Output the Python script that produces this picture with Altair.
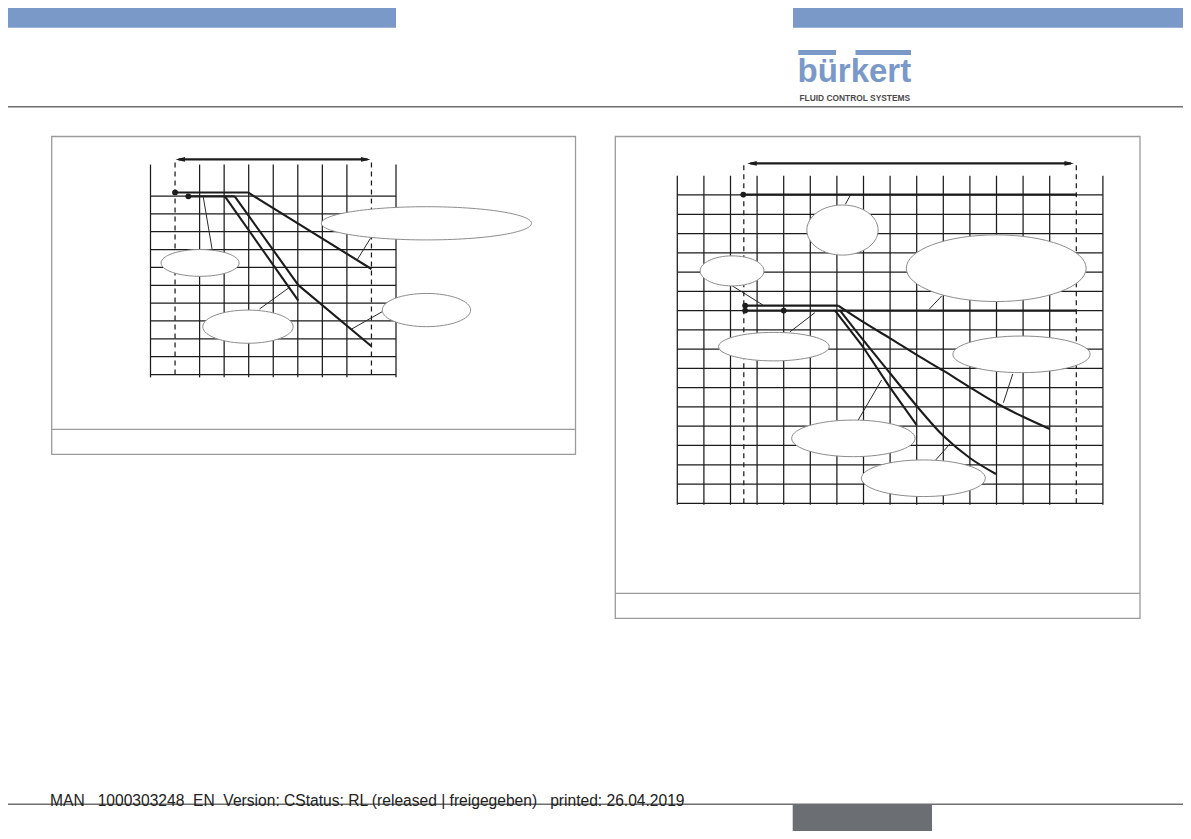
import altair as alt
import pandas as pd

# ======================= DATA (grid units) =======================
# ---- left diagram: 10 x 10 grid ----
L_SOLID_COLS = [0, 2, 3, 4, 5, 6, 7, 8, 10]
L_DASHED_COLS = [1, 9]
L_ROWS = list(range(11))
L_COL_MAX = 10
L_VERT_TOP = 11.76
L_DASH_TOP = 12.05
L_ARROW = [1.02, 8.96]
L_LINES = {
    "A": [(1.0, 10.2), (3.97, 10.2), (9.0, 5.91)],
    "H": [(1.54, 9.98), (3.43, 9.98)],
    "B": [(3.03, 9.98), (6.02, 4.14)],
    "C": [(3.43, 9.98), (6.02, 5.01), (9.0, 1.58)],
}
L_DOTS = [(1.0, 10.2), (1.54, 9.98)]
L_CALLOUTS = [  # centre col, centre row, half width, half height
    (11.24, 8.47, 4.28, 0.93),
    (2.02, 6.25, 1.59, 0.75),
    (3.97, 2.68, 1.84, 0.93),
    (11.24, 3.61, 1.80, 0.93),
]
L_LEADERS = [
    ((8.96, 7.63), (8.43, 6.45)),
    ((2.51, 7.01), (2.15, 9.94)),
    ((4.44, 3.67), (5.64, 4.86)),
    ((9.44, 3.52), (8.20, 2.55)),
]

# ---- right diagram: 16 x 16 grid ----
R_SOLID_COLS = list(range(15)) + [16]
R_DASHED_COLS = [2.5, 15]
R_ROWS = list(range(17))
R_COL_MAX = 16
R_VERT_TOP = 17.0
R_DASH_TOP = 17.73
R_ARROW = [2.63, 14.91]
R_LINES = {
    "top": [(2.48, 16.02), (15.0, 16.02)],
    "up": [(2.55, 10.26), (6.05, 10.26)],
    "low": [(2.55, 10.0), (15.0, 10.0)],
    "B": [(5.93, 10.0), (6.99, 8.1), (8.0, 6.0), (9.0, 4.06)],
}
R_CURVES = {  # smooth curves
    "A": [(6.05, 10.26), (7.0, 9.4), (8.0, 8.56), (9.0, 7.7), (10.0, 6.88), (11.0, 6.02),
          (12.0, 5.19), (13.0, 4.49), (14.0, 3.86)],
    "C": [(6.12, 10.0), (7.0, 8.45), (8.0, 6.75), (9.0, 5.05), (10.0, 3.5), (11.0, 2.35), (11.98, 1.52)],
}
R_DOTS = [(2.48, 16.02), (2.55, 10.26), (2.55, 10.0), (4.0, 10.0)]
R_CALLOUTS = [
    (6.21, 14.18, 1.34, 1.30),
    (11.99, 12.20, 3.38, 1.73),
    (2.06, 12.06, 1.20, 0.78),
    (3.63, 8.13, 2.08, 0.74),
    (12.94, 7.73, 2.58, 0.95),
    (6.62, 3.37, 2.32, 0.95),
    (9.25, 1.30, 2.33, 0.95),
]
R_LEADERS = [
    ((6.32, 15.52), (6.51, 16.0)),
    ((9.94, 10.76), (9.47, 10.07)),
    ((2.07, 11.28), (3.22, 10.29)),
    ((4.24, 8.90), (5.17, 9.89)),
    ((12.61, 6.71), (12.26, 5.22)),
    ((6.80, 4.32), (7.68, 6.40)),
    ((9.69, 2.21), (10.25, 3.08)),
]

# ---- page texts ----
LOGO_TEXT = "bürkert"
LOGO_SUB = "FLUID CONTROL SYSTEMS"
FOOTER_TEXT = ("MAN\u00a0\u00a0 1000303248\u00a0 EN\u00a0 Version: CStatus: RL "
               "(released | freigegeben)\u00a0\u00a0 printed: 26.04.2019")

# ======================= LAYOUT (page pixels) =======================
LEFT = dict(x0=150.5, dx=24.55, y0=374.5, dy=17.85)
RIGHT = dict(x0=677.3, dx=26.6, y0=503.3, dy=19.27)
BLUE = "#7a98c8"
INK = "#1c1c1c"

X = alt.Scale(domain=[8, 1183], nice=False, zero=False)
Y = alt.Scale(domain=[8, 831], nice=False, zero=False, reverse=True)


def px(f, c):
    return f["x0"] + c * f["dx"]


def py(f, r):
    return f["y0"] - r * f["dy"]


def seg_rows(f, solid, dashed, rows, cmax, vtop, dtop, vbot):
    out = []
    for c in solid:
        out.append(dict(x=px(f, c), y=py(f, vbot), x2=px(f, c), y2=py(f, vtop), k="s"))
    for r in rows:
        out.append(dict(x=px(f, 0), y=py(f, r), x2=px(f, cmax), y2=py(f, r), k="s"))
    for c in dashed:
        out.append(dict(x=px(f, c), y=py(f, 0), x2=px(f, c), y2=py(f, dtop), k="d"))
    return out


grid = (seg_rows(LEFT, L_SOLID_COLS, L_DASHED_COLS, L_ROWS, L_COL_MAX, L_VERT_TOP, L_DASH_TOP, -0.16)
        + seg_rows(RIGHT, R_SOLID_COLS, R_DASHED_COLS, R_ROWS, R_COL_MAX, R_VERT_TOP, R_DASH_TOP, -0.08))
grid_df = pd.DataFrame(grid)


def path_rows(tag, f, src):
    out = []
    for name, pts in src.items():
        for i, (c, r) in enumerate(pts):
            out.append(dict(id=tag + name, o=i, x=px(f, c), y=py(f, r)))
    return out


lines = path_rows("L", LEFT, L_LINES) + path_rows("R", RIGHT, R_LINES)
# arrow shafts
for tag, f, arr, row in (("L", LEFT, L_ARROW, L_DASH_TOP), ("R", RIGHT, R_ARROW, R_DASH_TOP - 0.09)):
    for i, c in enumerate(arr):
        lines.append(dict(id=tag + "arrow", o=i, x=px(f, c) + (3 if i == 0 else -3), y=py(f, row)))
lines_df = pd.DataFrame(lines)
curves_df = pd.DataFrame(path_rows("R", RIGHT, R_CURVES))

heads = []
for f, arr, row in ((LEFT, L_ARROW, L_DASH_TOP), (RIGHT, R_ARROW, R_DASH_TOP - 0.09)):
    heads.append(dict(x=px(f, arr[0]), y=py(f, row), p="M0,0L2,-0.5L2,0.5Z"))
    heads.append(dict(x=px(f, arr[1]), y=py(f, row), p="M0,0L-2,-0.5L-2,0.5Z"))
heads_df = pd.DataFrame(heads)

dots_df = pd.DataFrame([dict(x=px(f, c), y=py(f, r)) for f, d in ((LEFT, L_DOTS), (RIGHT, R_DOTS)) for c, r in d])

leaders_df = pd.DataFrame([dict(x=px(f, a[0]), y=py(f, a[1]), x2=px(f, b[0]), y2=py(f, b[1]))
                           for f, L in ((LEFT, L_LEADERS), (RIGHT, R_LEADERS)) for a, b in L])

K = 0.5523


def ellipse_path(r):
    k, kr = K, K * r
    return (f"M-1,0C-1,{-kr:.4f} {-k:.4f},{-r:.4f} 0,{-r:.4f}"
            f"C{k:.4f},{-r:.4f} 1,{-kr:.4f} 1,0"
            f"C1,{kr:.4f} {k:.4f},{r:.4f} 0,{r:.4f}"
            f"C{-k:.4f},{r:.4f} -1,{kr:.4f} -1,0Z")


ell = []
for f, C in ((LEFT, L_CALLOUTS), (RIGHT, R_CALLOUTS)):
    for c, r, a, b in C:
        rx, ry = a * f["dx"], b * f["dy"]
        ell.append(dict(x=px(f, c), y=py(f, r), p=ellipse_path(ry / rx), s=(2 * rx) ** 2))
ell_df = pd.DataFrame(ell)

# page furniture
bars_df = pd.DataFrame([dict(x=0, x2=396, y=0, y2=27.7), dict(x=793, x2=1191, y=0, y2=27.7)])
logo_bars_df = pd.DataFrame([dict(x=798.3, x2=836, y=50, y2=55), dict(x=855.5, x2=911, y=50, y2=55)])
boxes_df = pd.DataFrame([dict(x=51.7, x2=575.5, y=136.5, y2=454.3), dict(x=615.3, x2=1140, y=136.5, y2=618.3)])
seps_df = pd.DataFrame([
    dict(x=51.7, x2=575.5, y=429.3, c="#9b9b9b", w=1.3),
    dict(x=615.3, x2=1140, y=593.3, c="#9b9b9b", w=1.3),
    dict(x=0, x2=1191, y=106.7, c="#6f6f6f", w=1.5),
    dict(x=0, x2=1191, y=804.2, c="#6f6f6f", w=1.5),
])
foot_box_df = pd.DataFrame([dict(x=792.7, x2=932, y=804.8, y2=839)])
bold_texts_df = pd.DataFrame([
    dict(t=LOGO_TEXT, x=797.5, y=81.5, s=33, c=BLUE),
    dict(t=LOGO_SUB, x=799.5, y=100.5, s=8.4, c="#4a4a4a"),
])
plain_texts_df = pd.DataFrame([
    dict(t=FOOTER_TEXT, x=50, y=805.5, s=15.6, c="#222222"),
])

xq = lambda f: alt.X(f, type="quantitative", scale=X, axis=None)
yq = lambda f: alt.Y(f, type="quantitative", scale=Y, axis=None)


def text_layer(df, weight):
    return alt.Chart(df).mark_text(align="left", baseline="alphabetic", font="Liberation Sans",
                                   fontWeight=weight).encode(
        xq("x"), y=yq("y"), text="t:N",
        size=alt.Size("s:Q", scale=None), color=alt.Color("c:N", scale=None))


layers = [
    alt.Chart(bars_df).mark_rect(color=BLUE).encode(xq("x"), x2="x2", y=yq("y"), y2="y2"),
    alt.Chart(boxes_df).mark_rect(fill="white", stroke="#9b9b9b", strokeWidth=1.3).encode(
        xq("x"), x2="x2", y=yq("y"), y2="y2"),
    alt.Chart(seps_df).mark_rule().encode(
        xq("x"), x2="x2", y=yq("y"),
        color=alt.Color("c:N", scale=None), strokeWidth=alt.StrokeWidth("w:Q", scale=None)),
    alt.Chart(foot_box_df).mark_rect(color="#6b6e73").encode(xq("x"), x2="x2", y=yq("y"), y2="y2"),
    alt.Chart(logo_bars_df).mark_rect(color=BLUE).encode(xq("x"), x2="x2", y=yq("y"), y2="y2"),
    text_layer(bold_texts_df, "bold"),
    text_layer(plain_texts_df, "normal"),
    alt.Chart(grid_df).transform_filter("datum.k == 's'").mark_rule(color=INK, strokeWidth=1.25).encode(
        xq("x"), x2="x2", y=yq("y"), y2="y2"),
    alt.Chart(grid_df).transform_filter("datum.k == 'd'").mark_rule(
        color=INK, strokeWidth=1.25, strokeDash=[5, 4]).encode(xq("x"), x2="x2", y=yq("y"), y2="y2"),
    alt.Chart(leaders_df).mark_rule(color="#2a2a2a", strokeWidth=1.0).encode(
        xq("x"), x2="x2", y=yq("y"), y2="y2"),
    alt.Chart(ell_df).mark_point(filled=True, fill="white", stroke="#8c8c8c", strokeWidth=1.0,
                                 opacity=1, fillOpacity=1).encode(
        xq("x"), y=yq("y"), shape=alt.Shape("p:N", scale=None), size=alt.Size("s:Q", scale=None)),
    alt.Chart(lines_df).mark_line(color=INK, strokeWidth=2.1, strokeJoin="round").encode(
        xq("x"), y=yq("y"), detail="id:N", order="o:Q"),
    alt.Chart(curves_df).mark_line(color=INK, strokeWidth=2.1, interpolate="monotone").encode(
        xq("x"), y=yq("y"), detail="id:N", order="o:Q"),
    alt.Chart(heads_df).mark_point(filled=True, color=INK, opacity=1, size=90).encode(
        xq("x"), y=yq("y"), shape=alt.Shape("p:N", scale=None)),
    alt.Chart(dots_df).mark_circle(color=INK, opacity=1, size=34).encode(xq("x"), y=yq("y")),
]

chart = alt.layer(*layers).properties(
    width=1175, height=823, padding=0, autosize="none", background="white"
).configure_view(stroke=None)

chart.save("out.html", embed_options={"renderer": "svg", "actions": False})
